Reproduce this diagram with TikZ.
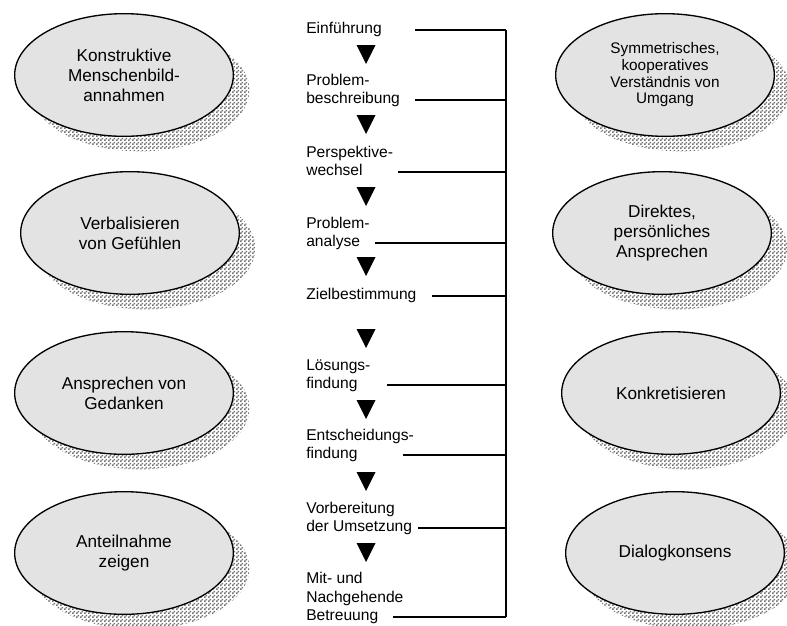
\documentclass[tikz,border=0pt]{standalone}
\usepackage{fontspec}
\setmainfont{Liberation Sans}
\usetikzlibrary{shapes.geometric,shadows,patterns,calc}

% fine grey checkerboard for the shadows
\pgfdeclarepatternformonly{finechecker}{\pgfpointorigin}{\pgfqpoint{3pt}{3pt}}{\pgfqpoint{3pt}{3pt}}{%
  \pgfpathrectangle{\pgfpointorigin}{\pgfqpoint{1.5pt}{1.5pt}}%
  \pgfpathrectangle{\pgfqpoint{1.5pt}{1.5pt}}{\pgfqpoint{1.5pt}{1.5pt}}%
  \pgfusepath{fill}}

\begin{document}
\begin{tikzpicture}[x=0.75pt,y=-0.75pt,
  bubble/.style={ellipse,draw,line width=1pt,fill=gray!22,
    minimum width=164pt,minimum height=92pt,inner sep=0pt,align=center,
    font=\fontsize{12.9}{15}\selectfont,
    drop shadow={shadow xshift=12pt,shadow yshift=-11.25pt,opacity=1,
      fill=white,pattern=finechecker,pattern color=black!55}},
  stepname/.style={anchor=south west,inner sep=0pt,text depth=0pt,align=left,
    font=\fontsize{11.7}{13.9}\selectfont},
  link/.style={line width=1.1pt}]
  \useasboundingbox (0,0) rectangle (787,625);

  % left column
  \node[bubble] (menschenbild) at (124,75)  {Konstruktive\\Menschenbild-\\annahmen};
  \node[bubble] (gefuehle)     at (130,233) {Verbalisieren\\von Gefühlen};
  \node[bubble] (gedanken)     at (124,393) {Ansprechen von\\Gedanken};
  \node[bubble] (anteilnahme)  at (124,553) {Anteilnahme\\zeigen};

  % right column
  \node[bubble,font=\fontsize{11.5}{12.5}\selectfont] (umgang) at (665,75)
    {Symmetrisches,\\kooperatives\\Verständnis von\\Umgang};
  \node[bubble] (ansprechen)   at (662,233) {Direktes,\\persönliches\\Ansprechen};
  \node[bubble] (konkret)      at (671,393) {Konkretisieren};
  \node[bubble] (konsens)      at (675,553) {Dialogkonsens};

  % steps
  \node[stepname] (einfuehrung)  at (306,34)  {Einführung};
  \node[stepname] (beschreibung) at (306,104) {Problem-\\beschreibung};
  \node[stepname] (wechsel)      at (306,176) {Perspektive-\\wechsel};
  \node[stepname] (analyse)      at (306,247) {Problem-\\analyse};
  \node[stepname] (ziel)         at (306,300) {Zielbestimmung};
  \node[stepname] (loesung)      at (306,389) {Lösungs-\\findung};
  \node[stepname] (entscheidung) at (306,459) {Entscheidungs-\\findung};
  \node[stepname] (umsetzung)    at (306,532) {Vorbereitung\\der Umsetzung};
  \node[stepname] (betreuung)    at (306,621) {Mit- und\\Nachgehende\\Betreuung};

  \foreach \t in {45,115,187,257,329,400,472,543}
    \fill (356.5,\t) -- (375.5,\t) -- (366,\t+19) -- cycle;

  % bracket on the right
  \coordinate (bustop) at (506,30);
  \coordinate (busend) at (506,617);
  \draw[link] (bustop) -- (busend);
  \foreach \s/\dx in {einfuehrung/109,beschreibung/109,wechsel/92,analyse/69,
      ziel/126,loesung/81,entscheidung/97,umsetzung/112,betreuung/87} {
    \coordinate (\s-out) at ($(\s.south west)+(\dx,-4)$);
    \draw[link] (\s-out) -- (\s-out -| bustop);
  }
\end{tikzpicture}
\end{document}
